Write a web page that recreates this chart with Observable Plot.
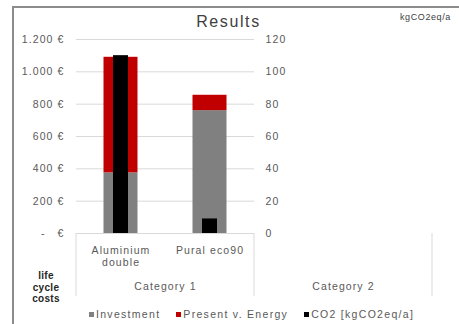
<!DOCTYPE html>
<html>
<head>
<meta charset="utf-8">
<script src="https://cdn.jsdelivr.net/npm/d3@7"></script>
<script src="https://cdn.jsdelivr.net/npm/@observablehq/plot@0.6"></script>
<style>
  html, body { margin: 0; padding: 0; background: #fff; }
  #wrap { position: relative; width: 459px; height: 324px; overflow: hidden; font-family: "Liberation Sans", Arial, sans-serif; }
  #border { position: absolute; left: 12px; top: 6px; width: 500px; height: 400px; border-left: 2px solid #8c8c8c; border-top: 2px solid #8c8c8c; }
  #chart { position: absolute; left: 0; top: 0; }
  .title { position: absolute; left: 0; width: 457px; top: 13px; text-align: center; font-size: 16px; letter-spacing: 1.6px; color: #404040; }
  .unit { position: absolute; left: 400px; top: 12px; font-size: 9px; letter-spacing: 0.6px; color: #404040; white-space: nowrap; }
  .lcc { position: absolute; left: 27px; width: 38px; top: 270px; text-align: center; font-size: 10px; line-height: 11.5px; color: #262626; font-weight: bold; letter-spacing: 0.3px; }
  .legend { position: absolute; left: 89px; top: 308px; font-size: 10.5px; letter-spacing: 1.3px; color: #595959; white-space: nowrap; display: flex; }
  .legend span.item { display: inline-flex; align-items: center; margin-right: 16px; }
  .legend i { display: inline-block; width: 5px; height: 5px; margin-right: 2px; }
</style>
</head>
<body>
<div id="wrap">
  <div id="border"></div>
  <div id="chart"></div>
  <div class="title">Results</div>
  <div class="unit">kgCO2eq/a</div>
  <div class="lcc">life cycle costs</div>
  <div class="legend" id="legend"></div>
</div>
<script>
// ---- data ----
const categories = ["Category 1", "Category 1", "Category 2", "Category 2"];
const products = ["Aluminium double", "Pural eco90", "Aluminium double", "Pural eco90"];
const investment = [375, 760, null, null];
const presentEnergy = [715, 95, null, null];
const co2 = [110, 9, null, null];
const seriesNames = ["Investment", "Present v. Energy"];
const seriesColors = ["#808080", "#c00000"];
const co2Name = "CO2 [kgCO2eq/a]";
const co2Color = "#000000";
const leftTicks = [0, 200, 400, 600, 800, 1000, 1200];
const rightTicks = [0, 20, 40, 60, 80, 100, 120];
const categoryDomain = ["Category 1", "Category 2"];
const productDomain = ["Aluminium double", "Pural eco90"];

// ---- build tables ----
const stacked = [];
const co2Rows = [];
categories.forEach((c, i) => {
  if (investment[i] != null) stacked.push({category: c, product: products[i], series: seriesNames[0], value: investment[i]});
  if (presentEnergy[i] != null) stacked.push({category: c, product: products[i], series: seriesNames[1], value: presentEnergy[i]});
  if (co2[i] != null) co2Rows.push({category: c, product: products[i], co2: co2[i]});
});

const ratio = leftTicks[leftTicks.length - 1] / rightTicks[rightTicks.length - 1];
const fmtLeft = d => d === 0 ? "-\u00a0\u00a0\u00a0\u20ac" : d3.format(",")(d).replace(/,/g, ".") + " \u20ac";
const fmtX = d => d === "Aluminium double" ? "Aluminium\ndouble" : d;

const plot = Plot.plot({
  width: 459,
  height: 300,
  marginLeft: 75,
  marginRight: 27,
  marginTop: 39,
  marginBottom: 67,
  style: {fontFamily: "Liberation Sans, Arial, sans-serif", fontSize: "10.5px", color: "#595959", background: "transparent", letterSpacing: "1.1px", overflow: "visible"},
  fx: {domain: categoryDomain, padding: 0},
  x: {domain: productDomain, padding: 0},
  y: {domain: [0, leftTicks[leftTicks.length - 1]]},
  color: {domain: seriesNames, range: seriesColors},
  marks: [
    Plot.gridY(leftTicks, {stroke: "#d9d9d9", strokeOpacity: 1}),
    Plot.ruleY([0], {stroke: "#d9d9d9"}),
    Plot.barY(stacked, {fx: "category", x: "product", y: "value", fill: "series", insetLeft: 27.5, insetRight: 27.5}),
    Plot.barY(co2Rows, {fx: "category", x: "product", y1: 0, y2: d => d.co2 * ratio, fill: co2Color, insetLeft: 37, insetRight: 37}),
    Plot.axisY(leftTicks, {anchor: "left", tickSize: 0, tickPadding: 12, tickFormat: fmtLeft, label: null}),
    Plot.axisY(rightTicks.map(t => t * ratio), {anchor: "right", tickSize: 0, tickPadding: 11, tickFormat: d => String(Math.round(d / ratio)), label: null, textAnchor: "start"}),
    Plot.axisX({tickSize: 0, tickPadding: 12, tickFormat: fmtX, label: null, lineHeight: 1.15}),
    Plot.axisFx({anchor: "bottom", tickSize: 0, tickPadding: 49, label: null})
  ]
});
document.getElementById("chart").appendChild(plot);

// separator lines between category groups, below the plot area
const fxs = plot.scale("fx");
const ys = plot.scale("y");
const y0 = ys.apply(0);
const bounds = categoryDomain.map(c => fxs.apply(c));
bounds.push(fxs.apply(categoryDomain[categoryDomain.length - 1]) + fxs.bandwidth);
d3.select(plot).append("g")
  .selectAll("line").data(bounds).join("line")
  .attr("x1", d => d).attr("x2", d => d)
  .attr("y1", y0).attr("y2", y0 + 63)
  .attr("stroke", "#d9d9d9");

// legend
const legendItems = seriesNames.map((n, i) => ({name: n, color: seriesColors[i]})).concat([{name: co2Name, color: co2Color}]);
const lg = document.getElementById("legend");
legendItems.forEach(it => {
  const s = document.createElement("span");
  s.className = "item";
  const sw = document.createElement("i");
  sw.style.background = it.color;
  s.appendChild(sw);
  s.appendChild(document.createTextNode(it.name));
  lg.appendChild(s);
});
</script>
</body>
</html>
